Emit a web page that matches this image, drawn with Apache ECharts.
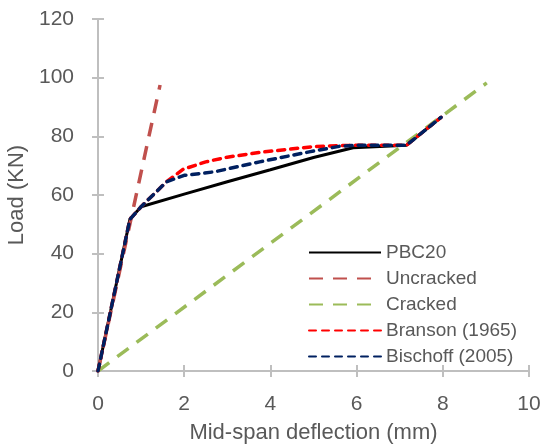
<!DOCTYPE html>
<html>
<head>
<meta charset="utf-8">
<script src="https://cdn.jsdelivr.net/npm/echarts@6/dist/echarts.min.js"></script>
<style>
  html, body { margin: 0; padding: 0; background: #fff; }
  #chart { width: 544px; height: 444px; }
</style>
</head>
<body>
<div id="chart"></div>
<script>
  // load-deflection curves, [deflection mm, load kN]
  var pbc20 = [[0, 0], [0.74, 51.7], [1.0, 56], [2, 60.3], [3, 64.5], [4, 68.6], [5, 72.8], [5.92, 76.1], [7.16, 77], [7.96, 86.5]];
  var uncracked = [[0, 0], [1.44, 97.5]];
  var cracked = [[0, 0], [9.02, 98.2]];
  var branson = [[0, 0], [0.74, 51.7], [1.0, 56], [1.59, 64.5], [1.98, 68.8], [2.5, 71.3], [3, 72.9], [3.8, 74.6], [5, 76.5], [6, 77], [7.16, 77], [7.96, 86.5]];
  var bischoff = [[0, 0], [0.74, 51.7], [1.0, 56], [1.59, 64.5], [2.0, 66.7], [2.7, 67.9], [3.75, 71.3], [4.9, 74.7], [5.6, 76.6], [6, 77], [7.16, 77], [7.96, 86.5]];

  var xTicks = { min: 0, max: 10, interval: 2 };
  var yTicks = { min: 0, max: 120, interval: 20 };

  var font = 'Liberation Sans';
  var txt = '#595959';
  var axisGrey = '#bfbfbf';

  var myChart = echarts.init(document.getElementById('chart'));

  // second axis on each side only draws the inner half of the cross ticks
  function axisPair(t, isX) {
    var main = {
      type: 'value', min: t.min, max: t.max, interval: t.interval,
      position: isX ? 'bottom' : 'left',
      splitLine: { show: false },
      axisLine: { show: true, lineStyle: { color: axisGrey, width: 2 } },
      axisTick: { show: true, length: 6, lineStyle: { color: axisGrey, width: 2 } },
      axisLabel: { color: txt, fontSize: 21, fontFamily: font, margin: isX ? 23 : 24 },
      nameLocation: 'middle',
      nameTextStyle: { color: txt, fontSize: 22, fontFamily: font }
    };
    var inner = {
      type: 'value', min: t.min, max: t.max, interval: t.interval,
      position: isX ? 'bottom' : 'left',
      splitLine: { show: false },
      axisLine: { show: false },
      axisTick: { show: true, inside: true, length: 6, lineStyle: { color: axisGrey, width: 2 } },
      axisLabel: { show: false }
    };
    if (isX) {
      main.name = 'Mid-span deflection (mm)';
      main.nameGap = 51;
    } else {
      main.name = 'Load (KN)';
      main.nameGap = 61;
    }
    return [main, inner];
  }

  function line(name, data, color, width, dash, cap) {
    return {
      name: name,
      type: 'line',
      data: data,
      symbol: 'none',
      lineStyle: { color: color, width: width, type: dash, cap: cap },
      itemStyle: { color: color }
    };
  }

  var option = {
    backgroundColor: '#fff',
    animation: false,
    grid: { left: 98, right: 15, top: 19, bottom: 73, containLabel: false, outerBoundsMode: 'none' },
    legend: {
      orient: 'vertical',
      left: 303,
      top: 238,
      itemWidth: 72,
      itemHeight: 16,
      itemGap: 7,
      itemStyle: { opacity: 0 },
      textStyle: { color: txt, fontSize: 19, fontFamily: font },
      data: ['PBC20', 'Uncracked', 'Cracked', 'Branson (1965)', 'Bischoff (2005)']
    },
    xAxis: axisPair(xTicks, true),
    yAxis: axisPair(yTicks, false),
    series: [
      line('PBC20', pbc20, '#000000', 3, 'solid', 'butt'),
      line('Uncracked', uncracked, '#c0504d', 3.5, [14, 10], 'butt'),
      line('Cracked', cracked, '#9bbb59', 3.5, [14, 10], 'butt'),
      line('Branson (1965)', branson, '#ff0000', 3.5, [7, 6], 'round'),
      line('Bischoff (2005)', bischoff, '#002060', 3.5, [7, 6], 'round')
    ]
  };
  myChart.setOption(option);
</script>
</body>
</html>
